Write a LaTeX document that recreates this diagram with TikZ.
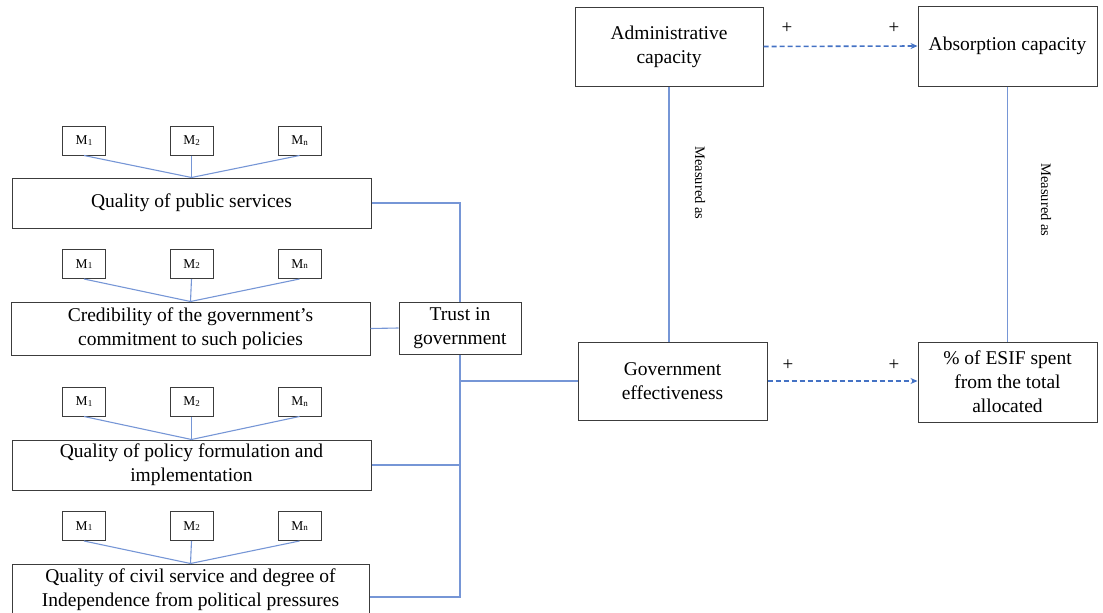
\documentclass[tikz,border=0pt]{standalone}
\usepackage{fontspec}
\setmainfont{Liberation Serif}
\usetikzlibrary{arrows.meta,calc}
\definecolor{linkblue}{RGB}{118,150,214}
\definecolor{arrowblue}{RGB}{68,114,196}
\definecolor{boxgray}{RGB}{60,60,60}
\newcommand{\msub}[1]{M{\fontsize{9}{9}\selectfont\raisebox{-0.5pt}{#1}}}
\tikzset{
  box/.style={draw=boxgray, line width=1pt, rectangle, inner sep=0pt, align=center,
    font=\fontsize{19.5}{24}\selectfont},
  mbox/.style={draw=boxgray, line width=1pt, rectangle, inner sep=0pt,
    minimum width=43pt, minimum height=29pt, font=\fontsize{13.5}{14}\selectfont},
  conn/.style={draw=linkblue, line width=1.1pt},
  effect/.style={draw=arrowblue, line width=1.6pt, dash pattern=on 5pt off 3pt,
    -{Stealth[length=7pt,width=6pt]}},
  sign/.style={font=\fontsize{19}{19}\selectfont, inner sep=0pt},
  measure/.style={font=\fontsize{14.5}{15}\selectfont, rotate=-90, inner sep=0pt},
}
\begin{document}
\begin{tikzpicture}[x=1pt, y=-1pt]
\useasboundingbox (0,0) rectangle (1103,613);
\clip (0,0) rectangle (1103,613);

% right-hand block
\node[box, minimum width=188pt, minimum height=79pt] (admin) at (669,46.5) {Administrative\\capacity};
\node[box, minimum width=179pt, minimum height=80pt] (abs) at (1007.5,46) {Absorption capacity};
\node[box, minimum width=189pt, minimum height=78pt] (ge) at (672.5,381) {Government\\effectiveness};
\node[box, minimum width=179pt, minimum height=80pt] (esif) at (1007.5,382) {\% of ESIF spent\\from the total\\allocated};

\draw[effect] (admin.east) -- (abs.west);
\draw[effect] (ge.east) -- (ge.east -| esif.west);
\node[sign] (p1) at (787,28) {+};
\node[sign] (p2) at (894,28) {+};
\node[sign] (p3) at (788,365) {+};
\node[sign] (p4) at (894,365) {+};

\draw[conn] (admin.south) -- (admin.south |- ge.north);
\draw[conn] (abs.south) -- (abs.south |- esif.north);
\node[measure] (m1) at (700,183) {Measured as};
\node[measure] (m2) at (1046,200) {Measured as};

% trust in government
\node[box, minimum width=122pt, minimum height=52pt] (trust) at (460,328) {Trust in\\government};

% dimension boxes
\node[box, minimum width=359pt, minimum height=50pt] (qps) at (191.5,203) {Quality of public services};
\node[box, minimum width=359pt, minimum height=53pt] (cred) at (190.5,328.5) {Credibility of the government’s\\commitment to such policies};
\node[box, minimum width=359pt, minimum height=50pt] (pol) at (191.5,465) {Quality of policy formulation and\\implementation};
\node[box, minimum width=357pt, minimum height=52pt] (civ) at (190.5,590) {Quality of civil service and degree of\\Independence from political pressures};

% measures attached to every dimension
\foreach \dim/\yy in {qps/140.5, cred/264, pol/401.5, civ/526}{
  \node[mbox] (\dim-a) at (84,\yy) {\msub{1}};
  \node[mbox] (\dim-b) at (191.5,\yy) {\msub{2}};
  \node[mbox] (\dim-n) at (299.5,\yy) {\msub{n}};
  \draw[conn] (\dim-a.south) -- (\dim.north);
  \draw[conn] (\dim-b.south) -- (\dim.north);
  \draw[conn] (\dim-n.south) -- (\dim.north);
}

% links into trust and on to effectiveness
\coordinate (cj) at ($(civ.east)+(0,7)$);
\draw[conn] (qps.east) -| (trust.north);
\draw[conn] (cred.east) -- (trust.west);
\draw[conn] (trust.south) -- (trust.south |- cj) -- (cj);
\draw[conn] (pol.east) -- (pol.east -| trust.south);
\draw[conn] (trust.south |- ge.west) -- (ge.west);
\end{tikzpicture}
\end{document}
